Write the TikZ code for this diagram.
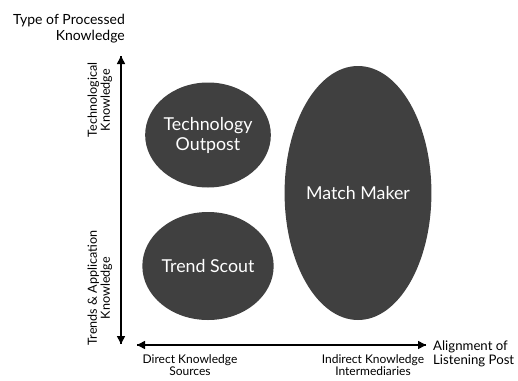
\documentclass[tikz,border=0pt]{standalone}
\usepackage{fontspec}
\setmainfont{Lato}
\usetikzlibrary{arrows.meta,shapes.geometric}
\definecolor{blob}{HTML}{404040}
\begin{document}
\begin{tikzpicture}[x=1pt,y=-1pt,
  blobnode/.style={ellipse,fill=blob,draw=none,text=white,font=\fontsize{17.8}{20}\selectfont,align=center,inner sep=0pt},
  lbl/.style={font=\fontsize{12}{12.5}\selectfont,inner sep=0pt},
  biglbl/.style={font=\fontsize{14}{16}\selectfont,inner sep=0pt},
  rotlbl/.style={font=\fontsize{12.6}{13}\selectfont,inner sep=0pt,rotate=90,align=center},
  axis/.style={line width=1.6pt,-{Triangle[length=8pt,width=8pt]}}]
\useasboundingbox (0,0) rectangle (518,380);
\node[blobnode,minimum width=124pt,minimum height=105pt] (to) at (208,135) {Technology\\Outpost};
\node[blobnode,minimum width=124pt,minimum height=108pt] (ts) at (208,266) {Trend Scout};
\node[blobnode,minimum width=124pt,minimum height=254pt] (mm) at (358,193) {Match Maker};
\coordinate (vtop) at (121,56);
\coordinate (vbot) at (121,344);
\coordinate (hleft) at (137,345);
\coordinate (hright) at (426,345);
\draw[axis] (vbot) -- (vtop);
\draw[axis] (vtop) -- (vbot);
\draw[axis] (hleft) -- (hright);
\draw[axis] (hright) -- (hleft);
\node[biglbl,align=right,anchor=north east] (ty) at (125,14) {Type of Processed\\Knowledge};
\node[align=left,anchor=north west,inner sep=0pt,font=\fontsize{13.2}{13.5}\selectfont] (al) at (433,341) {Alignment of\\Listening Post};
\node[lbl,align=center,anchor=north] (dk) at (190,354) {Direct Knowledge\\Sources};
\node[lbl,align=center,anchor=north] (ik) at (373,354) {Indirect Knowledge\\Intermediaries};
\node[rotlbl] (tk) at (100,100) {Technological\\Knowledge};
\node[rotlbl] (ta) at (100,288) {Trends \& Application\\Knowledge};
\end{tikzpicture}
\end{document}
